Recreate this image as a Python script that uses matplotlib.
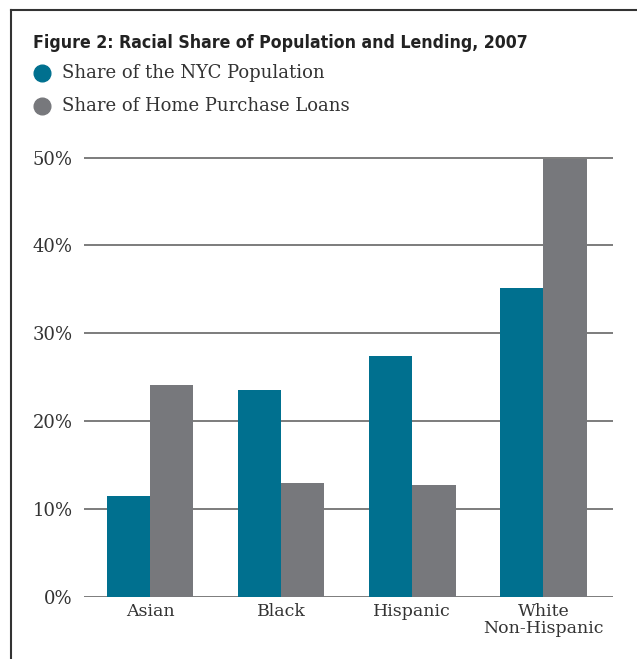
import matplotlib.pyplot as plt
from matplotlib.lines import Line2D
import numpy as np

# data
categories = ['Asian', 'Black', 'Hispanic', 'White\nNon-Hispanic']
population_share = [11.5, 23.5, 27.4, 35.1]
loan_share = [24.1, 13.0, 12.7, 49.8]
yticks = [0, 10, 20, 30, 40, 50]

blue = '#00708f'
grey = '#77787c'
serif = 'DejaVu Serif'

fig = plt.figure(figsize=(6.37, 6.59), dpi=100)
ax = fig.add_axes([0.132, 0.094, 0.830, 0.671])

x = np.arange(len(categories))
w = 0.33
ax.bar(x - w / 2, population_share, width=w, color=blue, zorder=3)
ax.bar(x + w / 2, loan_share, width=w, color=grey, zorder=3)

ax.set_xlim(-0.504, 3.53)
ax.set_ylim(0, 50.3)
ax.set_yticks(yticks)
ax.set_yticklabels([f'{t}%' for t in yticks], family=serif, fontsize=13, color='#333333')
ax.set_xticks(x)
ax.set_xticklabels(categories, family=serif, fontsize=12.5, color='#333333', linespacing=1.0)
ax.tick_params(length=0, pad=8)
ax.tick_params(axis='x', pad=4)
for t in yticks:
    ax.axhline(t, color='#666666', lw=1.2, zorder=1)
for s in ax.spines.values():
    s.set_visible(False)

# title and legend
fig.text(0.052, 0.927, 'Figure 2: Racial Share of Population and Lending, 2007',
         fontsize=12.7, weight='bold', family='DejaVu Sans', fontstretch='condensed',
         color='#222222', va='baseline')
for yy, c, lab in [(0.889, blue, 'Share of the NYC Population'),
                   (0.839, grey, 'Share of Home Purchase Loans')]:
    fig.add_artist(Line2D([0.066], [yy], marker='o', markersize=12, color=c,
                          transform=fig.transFigure))
    fig.text(0.097, yy, lab, family=serif, fontsize=13, color='#333333', va='center')

# frame
fig.add_artist(Line2D([0.018, 0.018], [0, 0.985], color='#333333', lw=1.5,
                      transform=fig.transFigure))
fig.add_artist(Line2D([0.018, 1.0], [0.985, 0.985], color='#333333', lw=1.5,
                      transform=fig.transFigure))

fig.savefig('out.png', dpi=100)
